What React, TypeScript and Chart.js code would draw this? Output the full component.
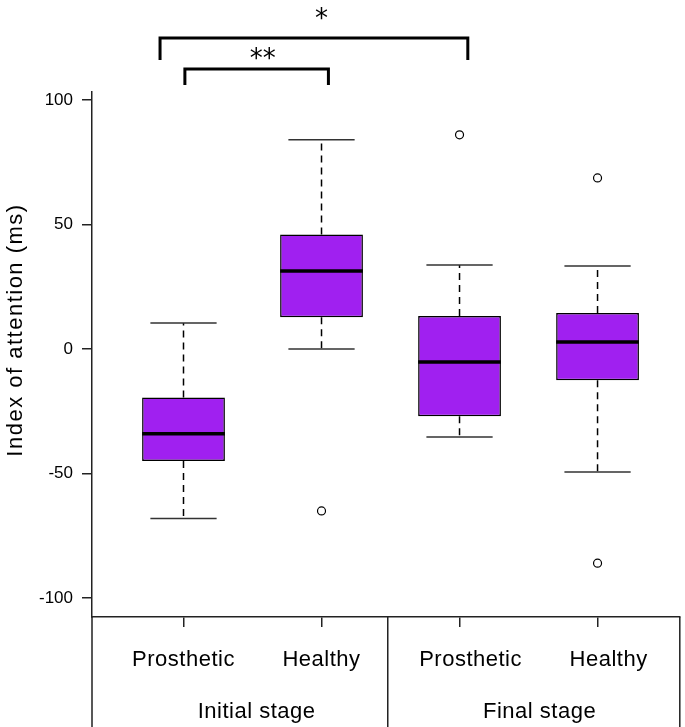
import React, { useEffect, useRef } from 'react';
import { Chart, registerables } from 'chart.js';

Chart.register(...registerables);

// ---- data ----
const SUB_LABELS = ['Prosthetic', 'Healthy', 'Prosthetic', 'Healthy'];
const POSITIONS = [1, 2, 3, 4];
const LABEL_POSITIONS = [1, 2, 3.08, 4.08];
const GROUP_LABELS = ['Initial stage', 'Final stage'];
const GROUP_POSITIONS = [1.53, 3.58];
const GROUP_SEPARATORS = [2.48];

const WHISKER_LOW = [-68, 0, -35.3, -49.4];
const Q1 = [-45, 12.8, -27, -12.5];
const MEDIAN = [-34, 31.3, -5.2, 2.8];
const Q3 = [-19.5, 46, 13.3, 14.5];
const WHISKER_HIGH = [10.4, 84, 33.7, 33.3];

const OUTLIER_X = [2, 3, 4, 4];
const OUTLIER_Y = [-65, 86, 68.7, -86];

const Y_TICKS = [-100, -50, 0, 50, 100];
const Y_MIN = -107.6;
const Y_MAX = 103.2;
const X_MIN = 0.337;
const X_MAX = 4.596;

const BRACKET_TEXT = ['**', '*'];
const BRACKET_FROM = [1.01, 0.83];
const BRACKET_TO = [2.05, 3.06];
const BRACKET_TOP = [112.4, 124.9];
const BRACKET_FOOT = [106, 116];
const BRACKET_TEXT_X = [1.575, 2.0];
const BRACKET_TEXT_Y = [115.9, 132.1];

const Y_TITLE = 'Index of attention (ms)';

const FONT = '"Liberation Sans", Arial, Helvetica, sans-serif';

const boxPlugin = {
  id: 'boxExtras',
  afterDatasetsDraw(chart: any) {
    const { ctx, scales } = chart;
    const xs = scales.x;
    const ys = scales.y;
    const capHalf = 0.24;
    const boxHalf = 0.3;
    ctx.save();
    for (let i = 0; i < POSITIONS.length; i++) {
      const x = xs.getPixelForValue(POSITIONS[i]);
      // dashed whiskers
      ctx.strokeStyle = '#000';
      ctx.lineWidth = 1.5;
      ctx.setLineDash([7, 5]);
      ctx.beginPath();
      ctx.moveTo(x, ys.getPixelForValue(Q3[i]));
      ctx.lineTo(x, ys.getPixelForValue(WHISKER_HIGH[i]));
      ctx.moveTo(x, ys.getPixelForValue(Q1[i]));
      ctx.lineTo(x, ys.getPixelForValue(WHISKER_LOW[i]));
      ctx.stroke();
      ctx.setLineDash([]);
      // caps
      ctx.strokeStyle = '#333';
      ctx.lineWidth = 1.5;
      ctx.beginPath();
      const xl = xs.getPixelForValue(POSITIONS[i] - capHalf);
      const xr = xs.getPixelForValue(POSITIONS[i] + capHalf);
      const yh = ys.getPixelForValue(WHISKER_HIGH[i]);
      const yl = ys.getPixelForValue(WHISKER_LOW[i]);
      ctx.moveTo(xl, yh);
      ctx.lineTo(xr, yh);
      ctx.moveTo(xl, yl);
      ctx.lineTo(xr, yl);
      ctx.stroke();
      // median
      ctx.strokeStyle = '#000';
      ctx.lineWidth = 3.5;
      ctx.beginPath();
      const ym = ys.getPixelForValue(MEDIAN[i]);
      ctx.moveTo(xs.getPixelForValue(POSITIONS[i] - boxHalf), ym);
      ctx.lineTo(xs.getPixelForValue(POSITIONS[i] + boxHalf), ym);
      ctx.stroke();
    }
    ctx.restore();
  },
  afterDraw(chart: any) {
    const { ctx, scales, chartArea, height } = chart;
    const xs = scales.x;
    const ys = scales.y;
    ctx.save();
    // significance brackets
    ctx.strokeStyle = '#000';
    ctx.lineWidth = 3;
    ctx.lineJoin = 'miter';
    for (let i = 0; i < BRACKET_TEXT.length; i++) {
      const x1 = xs.getPixelForValue(BRACKET_FROM[i]);
      const x2 = xs.getPixelForValue(BRACKET_TO[i]);
      const yt = ys.getPixelForValue(BRACKET_TOP[i]);
      const yf = ys.getPixelForValue(BRACKET_FOOT[i]);
      ctx.beginPath();
      ctx.moveTo(x1, yf);
      ctx.lineTo(x1, yt);
      ctx.lineTo(x2, yt);
      ctx.lineTo(x2, yf);
      ctx.stroke();
      ctx.fillStyle = '#000';
      ctx.font = '26px "DejaVu Sans", sans-serif';
      ctx.textAlign = 'center';
      ctx.textBaseline = 'middle';
      ctx.fillText(BRACKET_TEXT[i], xs.getPixelForValue(BRACKET_TEXT_X[i]), ys.getPixelForValue(BRACKET_TEXT_Y[i]));
    }
    // bottom frame lines
    ctx.strokeStyle = '#222';
    ctx.lineWidth = 1.5;
    ctx.beginPath();
    const verticals = [chartArea.left, ...GROUP_SEPARATORS.map((v) => xs.getPixelForValue(v)), chartArea.right];
    for (const vx of verticals) {
      ctx.moveTo(vx, chartArea.bottom);
      ctx.lineTo(vx, height);
    }
    ctx.stroke();
    // category labels
    ctx.fillStyle = '#000';
    ctx.font = `22px ${FONT}`;
    (ctx as any).letterSpacing = '0.5px';
    ctx.textAlign = 'center';
    ctx.textBaseline = 'middle';
    for (let i = 0; i < SUB_LABELS.length; i++) {
      ctx.fillText(SUB_LABELS[i], xs.getPixelForValue(LABEL_POSITIONS[i]), chartArea.bottom + 43);
    }
    for (let i = 0; i < GROUP_LABELS.length; i++) {
      ctx.fillText(GROUP_LABELS[i], xs.getPixelForValue(GROUP_POSITIONS[i]), chartArea.bottom + 95);
    }
    // y title
    (ctx as any).letterSpacing = '1.5px';
    ctx.translate(16, 330);
    ctx.rotate(-Math.PI / 2);
    ctx.fillText(Y_TITLE, 0, 0);
    ctx.restore();
  },
};

export default function App() {
  const ref = useRef<HTMLCanvasElement | null>(null);
  useEffect(() => {
    document.body.style.margin = '0';
    const canvas = ref.current;
    if (!canvas) return;
    const chart = new Chart(canvas, {
      type: 'bar',
      data: {
        datasets: [
          {
            type: 'bar',
            data: POSITIONS.map((x, i) => ({ x, y: [Q1[i], Q3[i]] })) as any,
            backgroundColor: '#A020F0',
            borderColor: '#000',
            borderWidth: 1.5,
            borderSkipped: false,
            barPercentage: 0.6,
            categoryPercentage: 1,
            order: 2,
          } as any,
          {
            type: 'scatter',
            data: OUTLIER_X.map((x, i) => ({ x, y: OUTLIER_Y[i] })),
            pointRadius: 4,
            pointBackgroundColor: '#fff',
            pointBorderColor: '#000',
            pointBorderWidth: 1.2,
            order: 1,
          } as any,
        ],
      },
      options: {
        animation: false,
        responsive: false,
        layout: { padding: { top: 92, right: 3, left: 0, bottom: 0 } },
        plugins: { legend: { display: false }, tooltip: { enabled: false } },
        scales: {
          x: {
            type: 'linear',
            min: X_MIN,
            max: X_MAX,
            offset: false,
            afterBuildTicks: (s: any) => {
              s.ticks = POSITIONS.map((v) => ({ value: v }));
            },
            ticks: { display: false },
            grid: { drawOnChartArea: false, drawTicks: true, tickLength: 10, color: '#222', lineWidth: 1.5, offset: false },
            border: { display: true, color: '#222', width: 1.5 },
            afterFit: (s: any) => {
              s.height = 110;
            },
          },
          y: {
            type: 'linear',
            min: Y_MIN,
            max: Y_MAX,
            afterBuildTicks: (s: any) => {
              s.ticks = Y_TICKS.map((v) => ({ value: v }));
            },
            ticks: { font: { family: FONT, size: 17 }, color: '#000', padding: 9, autoSkip: false },
            grid: { drawOnChartArea: false, drawTicks: true, tickLength: 10, color: '#222', lineWidth: 1.5 },
            border: { display: true, color: '#222', width: 1.5 },
            afterFit: (s: any) => {
              s.width = 92;
            },
          },
        },
      } as any,
      plugins: [boxPlugin],
    });
    return () => chart.destroy();
  }, []);
  return <canvas ref={ref} width={685} height={727} style={{ display: 'block' }} />;
}
